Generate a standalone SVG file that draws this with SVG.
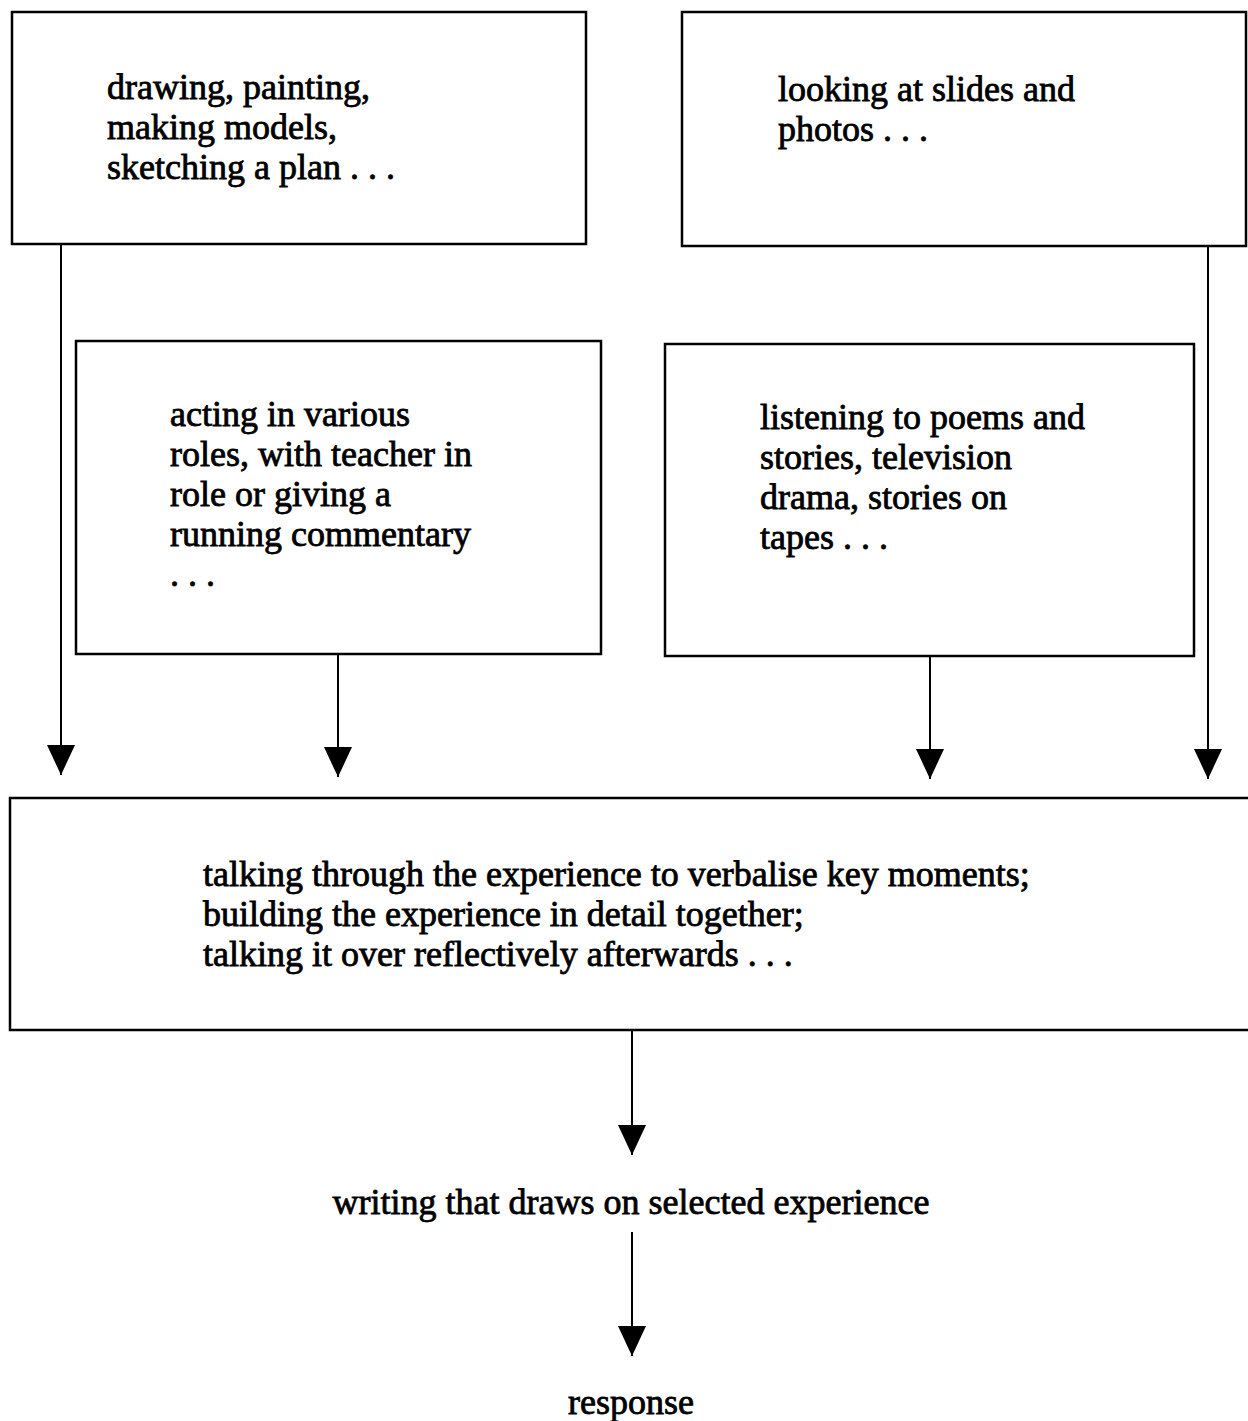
<svg xmlns="http://www.w3.org/2000/svg" width="1248" height="1421" viewBox="0 0 1248 1421">
<style>
.box{fill:#fff;stroke:#000;stroke-width:2.5}
.t{font-family:"Liberation Serif","Times New Roman",serif;font-size:36px;fill:#000;stroke:#000;stroke-width:0.8}
.c{stroke:#000;stroke-width:2;fill:none}
</style>
<defs>
<marker id="down" markerUnits="userSpaceOnUse" markerWidth="28" markerHeight="30" refX="14" refY="30" orient="0" viewBox="0 0 28 30">
<path d="M0,0 L28,0 L14,30 Z" fill="#000"/>
</marker>
</defs>
<rect width="1248" height="1421" fill="#fff"/>
<g id="connectors">
<line class="c" x1="61" y1="244" x2="61" y2="775" marker-end="url(#down)"/>
<line class="c" x1="1208" y1="246" x2="1208" y2="779" marker-end="url(#down)"/>
<line class="c" x1="338" y1="654" x2="338" y2="777" marker-end="url(#down)"/>
<line class="c" x1="930" y1="656" x2="930" y2="779" marker-end="url(#down)"/>
<line class="c" x1="632" y1="1030" x2="632" y2="1155" marker-end="url(#down)"/>
<line class="c" x1="632" y1="1232" x2="632" y2="1356" marker-end="url(#down)"/>
</g>
<g id="node-drawing">
<rect class="box" x="12" y="12" width="574" height="232"/>
<text class="t" x="107" y="99">drawing, painting,</text>
<text class="t" x="107" y="139">making models,</text>
<text class="t" x="107" y="179">sketching a plan . . .</text>
</g>
<g id="node-looking">
<rect class="box" x="682" y="12" width="564" height="234"/>
<text class="t" x="778" y="101">looking at slides and</text>
<text class="t" x="778" y="141">photos . . .</text>
</g>
<g id="node-acting">
<rect class="box" x="76" y="341" width="525" height="313"/>
<text class="t" x="170" y="426">acting in various</text>
<text class="t" x="170" y="466">roles, with teacher in</text>
<text class="t" x="170" y="506">role or giving a</text>
<text class="t" x="170" y="546">running commentary</text>
<text class="t" x="170" y="586">. . .</text>
</g>
<g id="node-listening">
<rect class="box" x="665" y="344" width="529" height="312"/>
<text class="t" x="760" y="429">listening to poems and</text>
<text class="t" x="760" y="469">stories, television</text>
<text class="t" x="760" y="509">drama, stories on</text>
<text class="t" x="760" y="549">tapes . . .</text>
</g>
<g id="node-talking">
<rect class="box" x="10" y="798" width="1240" height="232"/>
<text class="t" x="203" y="886">talking through the experience to verbalise key moments;</text>
<text class="t" x="203" y="926">building the experience in detail together;</text>
<text class="t" x="203" y="966">talking it over reflectively afterwards . . .</text>
</g>
<g id="node-writing">
<text class="t" x="631" y="1214" text-anchor="middle">writing that draws on selected experience</text>
</g>
<g id="node-response">
<text class="t" x="631" y="1414" text-anchor="middle">response</text>
</g>
</svg>
